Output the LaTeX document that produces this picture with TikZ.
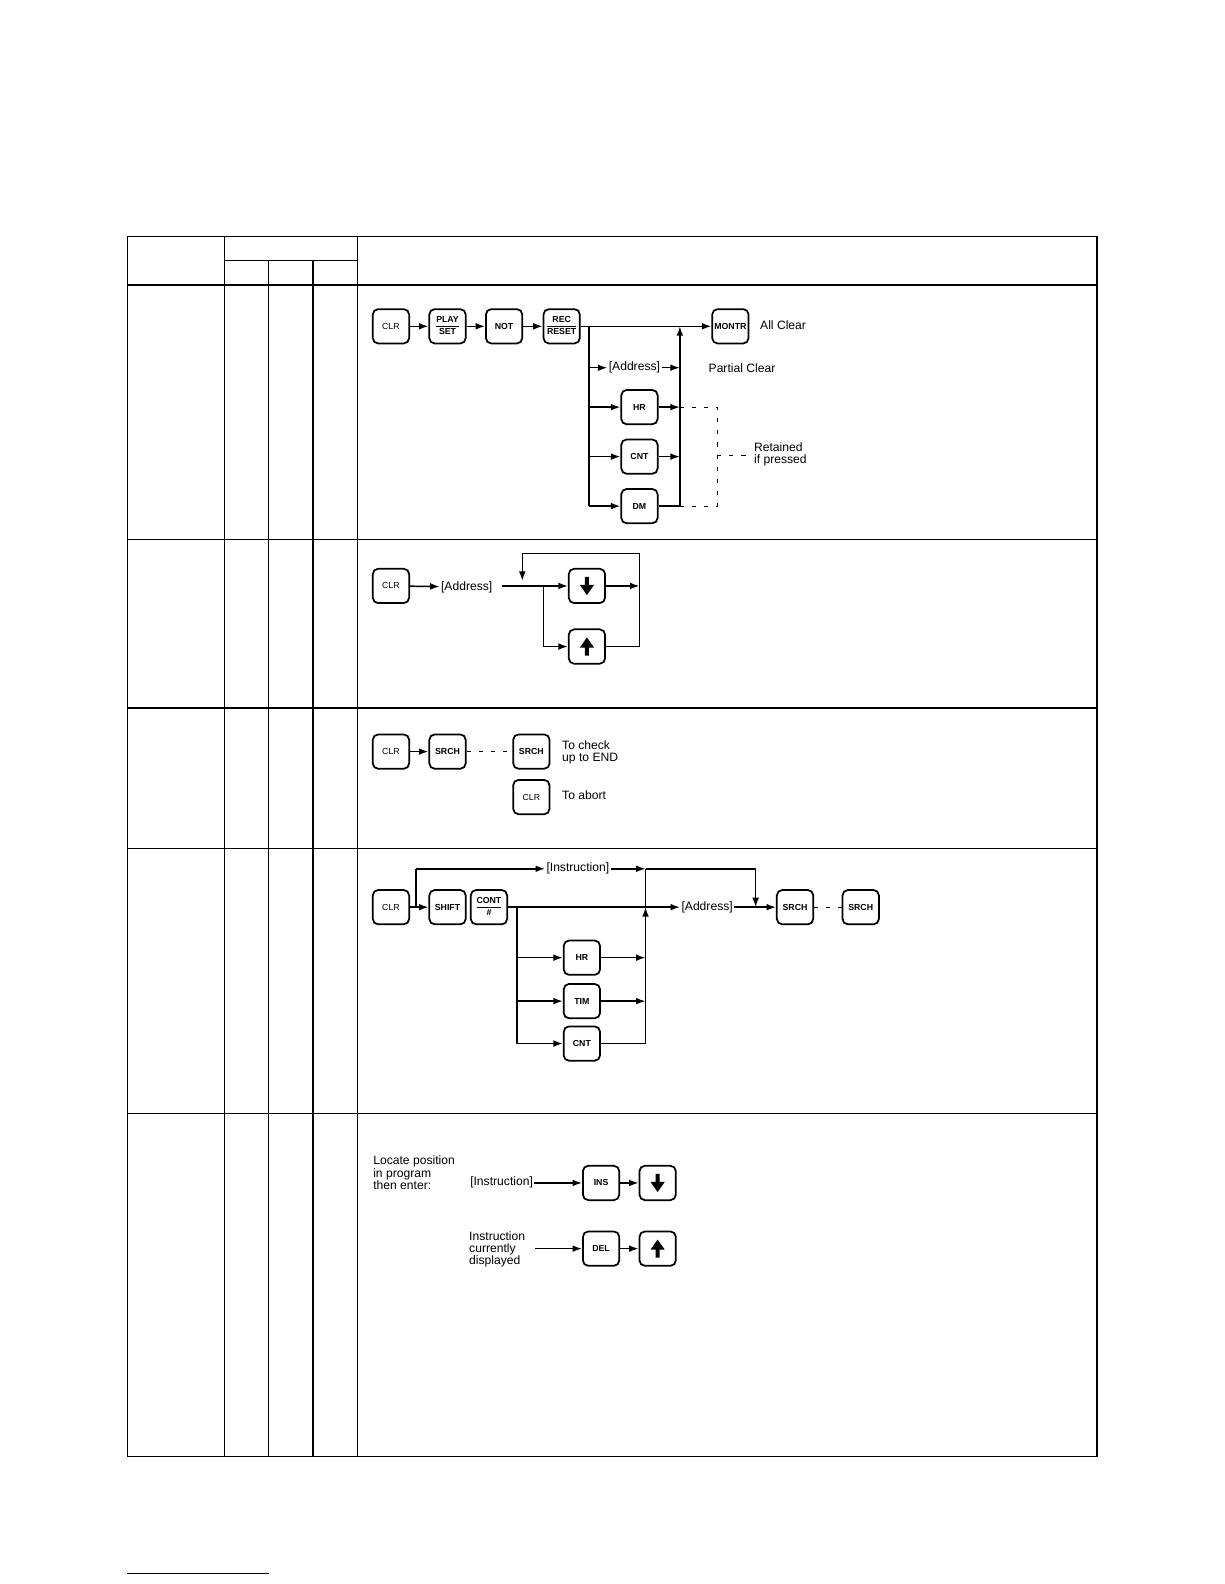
\documentclass[tikz,border=0pt]{standalone}
\usepackage{fontspec}
\setmainfont{Liberation Sans}
\usetikzlibrary{arrows.meta,positioning}
\tikzset{every picture/.style={line width=0.75pt}}
\tikzset{
  key/.style={draw,line width=1.3pt,rounded corners=4pt,minimum width=27pt,minimum height=25.5pt,inner sep=0.5pt,font=\fontsize{6.5}{6.5}\selectfont\bfseries},
  clrkey/.style={key,font=\fontsize{6.5}{6.5}\selectfont},
  lbl/.style={inner sep=0.75pt,font=\fontsize{9}{9}\selectfont,align=left},
  flow/.style={line width=1.1pt},
  arr/.style={flow,-{Latex[length=7pt,width=5pt]}},
  gap/.style={dash pattern=on 3pt off 6pt},
  grid/.style={line width=1pt}
}
\newcommand{\twokey}[2]{\setlength{\arrayrulewidth}{0.8pt}\renewcommand{\arraystretch}{1.25}\begin{tabular}{@{}c@{}}#1\\\hline #2\end{tabular}}
\newcommand{\dnglyph}[1]{\fill ([shift={(-2,-9)}]#1.center) -- ([shift={(2,-9)}]#1.center) -- ([shift={(2,-1)}]#1.center) -- ([shift={(7,-1)}]#1.center) -- ([shift={(0,9)}]#1.center) -- ([shift={(-7,-1)}]#1.center) -- ([shift={(-2,-1)}]#1.center) -- cycle;}
\newcommand{\upglyph}[1]{\fill ([shift={(-2,9)}]#1.center) -- ([shift={(2,9)}]#1.center) -- ([shift={(2,1)}]#1.center) -- ([shift={(7,1)}]#1.center) -- ([shift={(0,-9)}]#1.center) -- ([shift={(-7,1)}]#1.center) -- ([shift={(-2,1)}]#1.center) -- cycle;}

\begin{document}
\begin{tikzpicture}[x=0.75pt,y=0.75pt,yscale=-1,xscale=1]

% table frame
\draw[grid] (126,234) rectangle (1086,1442);
\draw[grid] (222,234) -- (222,1442);
\draw[grid] (354,234) -- (354,1442);
\draw[grid] (266,258) -- (266,1442);
\draw[grid] (310,258) -- (310,1442);
\draw[grid] (222,258) -- (354,258);
\foreach \y in {282,534,701,840,1102} \draw[grid] (126,\y) -- (1086,\y);
\draw (126,1558) -- (266,1558);

% --- row 1: clear memory
\node[clrkey] (clrA) at (387,323) {CLR};
\node[key] (play) at (443,323) {\twokey{PLAY}{SET}};
\node[key] (notA) at (499,323) {NOT};
\node[key] (rec) at (556,323) {\twokey{REC}{RESET}};
\node[key] (montr) at (723,323) {MONTR};
\node[lbl,anchor=west] (allclr) at (751,322) {All Clear};
\node[lbl] (addrA) at (628,364) {[Address]};
\node[lbl,anchor=west] (partclr) at (700,364) {Partial Clear};
\node[key] (hrA) at (633,403) {HR};
\node[key] (cntA) at (633,452) {CNT};
\node[key] (dmA) at (633,501) {DM};
\node[lbl,anchor=west] (retain) at (745,450) {Retained\\if pressed};
\coordinate (busA) at (583,323);
\coordinate (retA) at (673,323);

\draw[arr] (clrA) -- (play);
\draw[arr] (play) -- (notA);
\draw[arr] (notA) -- (rec);
\draw[arr] (rec) -- (montr);
\draw[flow] (busA) -- (busA |- dmA);
\draw[arr] (busA |- addrA) -- (addrA);
\draw[arr] (busA |- hrA) -- (hrA);
\draw[arr] (busA |- cntA) -- (cntA);
\draw[arr] (busA |- dmA) -- (dmA);
\draw[arr] (addrA) -- (retA |- addrA);
\draw[arr] (hrA) -- (retA |- hrA);
\draw[arr] (cntA) -- (retA |- cntA);
\draw[flow] (dmA) -- (retA |- dmA);
\draw[arr] (retA |- dmA) -- (retA);
\draw[gap] (retA |- hrA) -- (710,403) -- (710,501) -- (retA |- dmA);
\draw[gap] (710,451) -- (738,451);

% --- row 2: address designation
\node[clrkey] (clrB) at (387,580) {CLR};
\node[lbl] (addrB) at (462,581) {[Address]};
\node[key] (dnB) at (581,580) {};
\node[key] (upB) at (581,640) {};
\dnglyph{dnB}
\upglyph{upB}
\coordinate (jB) at (538,580);
\coordinate (eB) at (633,580);
\draw[arr] (clrB) -- (addrB);
\draw[flow] (497,580) -- (jB);
\draw[arr] (jB) -- (dnB);
\draw[arr] (dnB) -- (eB);
\draw[flow] (jB) -- (jB |- upB);
\draw[arr] (jB |- upB) -- (upB);
\draw[flow] (upB) -- (eB |- upB) -- (eB) -- (633,548) -- (517,548);
\draw[arr] (517,548) -- (517,575);

% --- row 3: program check
\node[clrkey] (clrC) at (387,744) {CLR};
\node[key] (srchC) at (443,744) {SRCH};
\node[key] (srchD) at (526,744) {SRCH};
\node[clrkey] (clrD) at (526,789) {CLR};
\node[lbl,anchor=west] (chk) at (555,745) {To check\\ up to END};
\node[lbl,anchor=west] (abrt) at (555,787) {To abort};
\draw[arr] (clrC) -- (srchC);
\draw[gap] (srchC) -- (srchD);

% --- row 4: instruction search
\node[clrkey] (clrE) at (387,898) {CLR};
\node[key] (shift) at (443,898) {SHIFT};
\node[key] (cont) at (484,898) {\twokey{CONT}{\#}};
\node[lbl] (instrE) at (572,860) {[Instruction]};
\node[lbl] (addrE) at (700,898) {[Address]};
\node[key] (srchE) at (787,898) {SRCH};
\node[key] (srchF) at (852,898) {SRCH};
\node[key] (hrE) at (576,948) {HR};
\node[key] (timE) at (576,991) {TIM};
\node[key] (cntE) at (576,1033) {CNT};
\coordinate (jE) at (412,898);
\coordinate (bE) at (512,898);
\coordinate (rE) at (639,898);
\coordinate (dE) at (748,898);
\draw[arr] (clrE) -- (shift);
\draw[flow] (jE) -- (412,860);
\draw[arr] (412,860) -- (instrE);
\draw[arr] (instrE) -- (639,860);
\draw[flow] (639,860) -- (748,860);
\draw[arr] (748,860) -- (dE);
\draw[arr] (cont) -- (addrE);
\draw[arr] (addrE) -- (srchE);
\draw[gap] (srchE) -- (srchF);
\draw[flow] (bE) -- (bE |- cntE);
\draw[arr] (bE |- hrE) -- (hrE);
\draw[arr] (bE |- timE) -- (timE);
\draw[arr] (bE |- cntE) -- (cntE);
\draw[arr] (hrE) -- (rE |- hrE);
\draw[arr] (timE) -- (rE |- timE);
\draw[flow] (cntE) -- (rE |- cntE);
\draw[arr] (rE |- cntE) -- (rE);
\draw[flow] (rE) -- (639,860);

% --- row 5: insert / delete
\node[lbl,anchor=north west] (locate) at (368,1143) {Locate position\\in program\\then enter:};
\node[lbl,anchor=west] (instrF) at (464,1170) {[Instruction]};
\node[key] (ins) at (595,1171) {INS};
\node[key] (dnF) at (651,1171) {};
\dnglyph{dnF}
\node[lbl,anchor=north west] (cur) at (463,1218) {Instruction\\currently\\displayed};
\node[key] (del) at (595,1236) {DEL};
\node[key] (upF) at (651,1236) {};
\upglyph{upF}
\draw[arr] (instrF.east |- ins) -- (ins);
\draw[arr] (ins) -- (dnF);
\draw[arr] (530,1236) -- (del);
\draw[arr] (del) -- (upF);

\pgfresetboundingbox
\path[use as bounding box] (0,0) rectangle (1212,1568);
\end{tikzpicture}
\end{document}
